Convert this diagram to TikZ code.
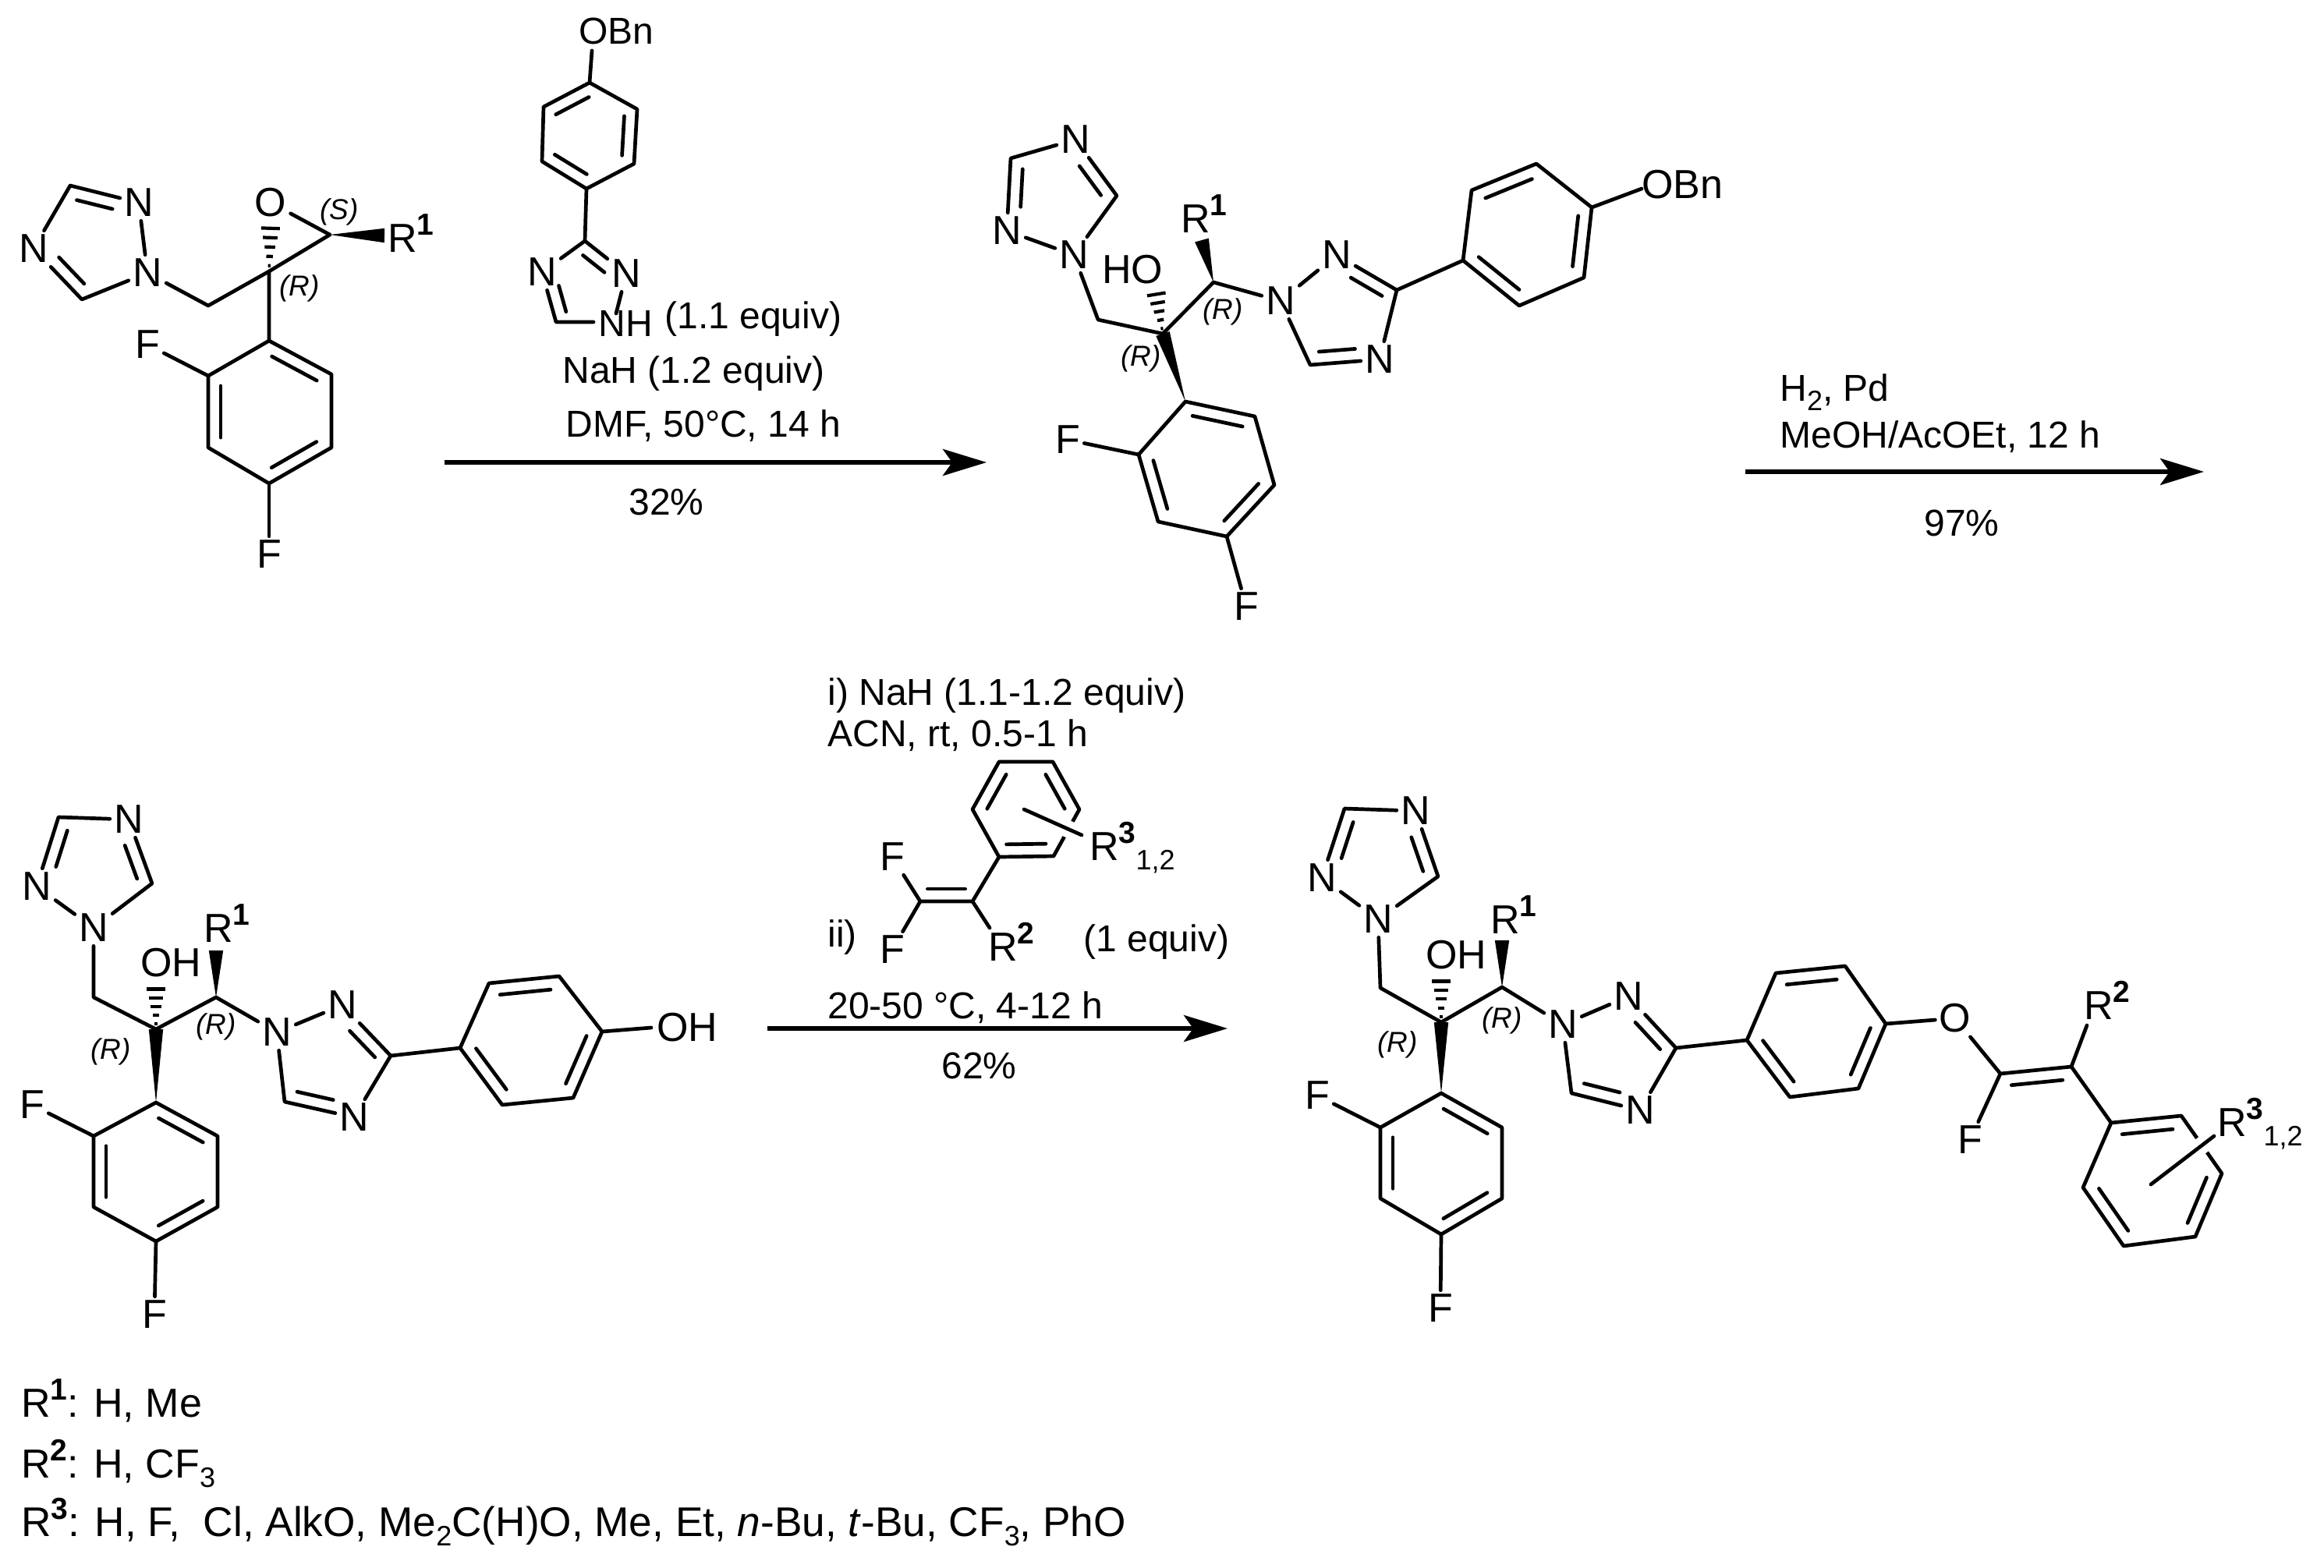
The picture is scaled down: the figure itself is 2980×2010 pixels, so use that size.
\documentclass[tikz,border=0pt]{standalone}
\usepackage{fontspec}
\setmainfont{Liberation Sans}
\usetikzlibrary{calc,arrows.meta}
\newcommand\Cn[3]{\coordinate (#1) at (#2,#3);}
\newcommand\At[4]{\node[atom] (#1) at (#2,#3) {#4};}
\newcommand\Lb[4]{\node[lab] (#1) at (#2,#3) {#4};}
\newcommand\Tx[4]{\node[txt] (#1) at (#2,#3) {#4};}
\newcommand\Sp[1]{\raisebox{11pt}{\fontsize{19.5}{19.5}\selectfont\bfseries #1}}
\newcommand\Sb[1]{\raisebox{-6pt}{\fontsize{18}{18}\selectfont #1}}
\newcommand\Rc[3]{\node[stereo] (#1) at (#2,#3) {\textit{(R)}};}
\newcommand\db[2]{\draw[bond] ($(#1)!.14!(#2)!8pt!90:(#2)$) -- ($(#2)!.14!(#1)!8pt!-90:(#1)$);}
\newcommand\dbna[2]{\draw[bond] ($(#1)!.34!(#2)!8pt!90:(#2)$) -- ($(#2)!.14!(#1)!8pt!-90:(#1)$);}
\newcommand\dbcn[2]{\draw[bond] ($(#1)!.14!(#2)!8pt!90:(#2)$) -- ($(#2)!.34!(#1)!8pt!-90:(#1)$);}
\newcommand\wdg[2]{\fill (#1) -- ($(#2)!4.6pt!90:(#1)$) -- ($(#2)!4.6pt!-90:(#1)$) -- cycle;}
\newcommand\hsh[2]{\foreach \hh in {.12,.32,.52,.72,.92}{\draw[line width=2.1pt] ($(#1)!\hh!(#2)!\hh*6.5pt!90:(#2)$) -- ($(#1)!\hh!(#2)!\hh*6.5pt!-90:(#2)$);}}
\tikzset{
 bond/.style={line width=2.35pt,line cap=round,line join=round},
 atom/.style={inner sep=2.5pt,font=\fontsize{26}{30}\selectfont},
 lab/.style={inner sep=0pt,anchor=base west,font=\fontsize{26}{30}\selectfont},
 txt/.style={inner sep=0pt,anchor=base west,font=\fontsize{24}{28}\selectfont},
 stereo/.style={inner sep=0pt,font=\fontsize{18.5}{22}\selectfont},
 rxn/.style={line width=2.8pt,-{Stealth[length=28pt,width=17pt,inset=6pt]}},
 halo/.style={white,line width=11pt}
}
\begin{document}
\begin{tikzpicture}[x=0.5pt,y=-0.5pt]
\path[use as bounding box] (0,0) rectangle (2980,2010);
% ---------- molecule 1
\Cn{at}{90}{238}\At{an2}{178}{260}{N}\At{an1}{189}{350}{N}\Cn{ac5}{105}{384}\At{an4}{43}{319}{N}
\Cn{ach}{267}{392}\Cn{aq}{345}{348}\At{ao}{347}{260}{O}\Cn{as}{423}{301}
\Cn{ar1}{345}{437}\Cn{ar2}{267}{482}\Cn{ar3}{267}{574}\Cn{ar4}{345}{620}\Cn{ar5}{425}{574}\Cn{ar6}{425}{480}
\At{af1}{189}{442}{F}\At{af2}{345}{711}{F}
\Cn{awe}{493}{302}\Cn{aha}{347}{288}
\Lb{arl}{497}{323}{R\Sp{1}}
\node[stereo] (asl) at (435,272) {\textit{(S)}};
\Rc{arc}{384}{370}
\draw[bond] (at)--(an2)--(an1)--(ac5)--(an4)--(at);
\draw[bond] (an1)--(ach)--(aq)--(as)--(ao);
\draw[bond] (aq)--(ar1)--(ar2)--(ar3)--(ar4)--(ar5)--(ar6)--(ar1);
\draw[bond] (ar2)--(af1);\draw[bond] (ar4)--(af2);
\dbna{an2}{at}\dbna{an4}{ac5}\db{ar2}{ar3}\db{ar4}{ar5}\db{ar6}{ar1}
\wdg{as}{awe}\hsh{aq}{aha}
% ---------- reagent 1
\Tx{bobn}{742}{56}{OBn}\Cn{bo}{759}{65}
\Cn{bp1}{756}{106}\Cn{bp2}{817}{140}\Cn{bp3}{813}{210}\Cn{bp4}{752}{242}\Cn{bp5}{695}{207}\Cn{bp6}{697}{137}
\Cn{bc3}{750}{309}\At{bn2}{803}{351}{N}\Tx{bnh}{767}{431}{NH}\Cn{bne}{761}{413}\Cn{bnu}{790}{402}
\Cn{bc5}{713}{413}\At{bn4}{695}{349}{N}
\draw[bond] (bo)--(bp1)--(bp2)--(bp3)--(bp4)--(bp5)--(bp6)--(bp1);
\draw[bond] (bp4)--(bc3)--(bn2);\draw[bond] (bn2)--(bnu);\draw[bond] (bne)--(bc5)--(bn4)--(bc3);
\db{bp1}{bp6}\db{bp5}{bp4}\db{bp3}{bp2}\dbna{bn2}{bc3}\dbna{bn4}{bc5}
\Tx{bt1}{852}{421}{(1.1 equiv)}
\Tx{bt2}{721}{491}{NaH (1.2 equiv)}
\Tx{bt3}{725}{560}{DMF, 50°C, 14 h}
\Tx{bt4}{806}{660}{32\%}
\Cn{aa1}{570}{593}\Cn{aa2}{1265}{593}
\draw[rxn] (aa1)--(aa2);
% ---------- molecule 2
\At{cn4}{1379}{179}{N}\Cn{cc5}{1432}{251}\At{cn1}{1377}{327}{N}\At{cn2}{1291}{296}{N}\Cn{cc3}{1296}{203}
\Cn{cch}{1408}{410}\Cn{cq}{1491}{428}\Cn{ccr}{1556}{362}
\At{cm1}{1642}{386}{N}\At{cm2}{1714}{327}{N}\Cn{cm3}{1791}{372}\At{cm4}{1769}{461}{N}\Cn{cm5}{1680}{468}
\Cn{cpa}{1876}{334}\Cn{cpb}{1887}{244}\Cn{cpc}{1970}{210}\Cn{cpd}{2041}{266}\Cn{cpe}{2031}{356}\Cn{cpf}{1948}{392}
\Cn{car1}{1520}{515}\Cn{car6}{1609}{534}\Cn{car5}{1634}{622}\Cn{car4}{1573}{688}\Cn{car3}{1485}{669}\Cn{car2}{1460}{583}
\At{cf1}{1369}{564}{F}\At{cf2}{1598}{778}{F}
\Cn{cwe}{1541}{308}\Cn{cha}{1482}{373}\Cn{cob}{2105}{242}
\Lb{cho}{1413}{363}{HO}\Lb{crl}{1514}{298}{R\Sp{1}}\Lb{cobn}{2105}{254}{OBn}
\Rc{crc1}{1568}{400}\Rc{crc2}{1463}{460}
\draw[bond] (cn4)--(cc5)--(cn1)--(cn2)--(cc3)--(cn4);
\draw[bond] (cn1)--(cch)--(cq)--(ccr)--(cm1)--(cm2)--(cm3)--(cm4)--(cm5)--(cm1);
\draw[bond] (cm3)--(cpa)--(cpb)--(cpc)--(cpd)--(cpe)--(cpf)--(cpa);
\draw[bond] (cpd)--(cob);
\draw[bond] (car1)--(car2)--(car3)--(car4)--(car5)--(car6)--(car1);
\draw[bond] (car2)--(cf1);\draw[bond] (car4)--(cf2);
\dbcn{cc5}{cn4}\dbcn{cc3}{cn2}\dbcn{cm5}{cm4}\dbcn{cm3}{cm2}
\db{cpa}{cpf}\db{cpe}{cpd}\db{cpc}{cpb}\db{car6}{car1}\db{car2}{car3}\db{car4}{car5}
\wdg{car1}{cq}\wdg{ccr}{cwe}\hsh{cq}{cha}
\Tx{ct1}{2282}{514}{H\Sb{2}, Pd}
\Tx{ct2}{2282}{574}{MeOH/AcOEt, 12 h}
\Tx{ct3}{2467}{687}{97\%}
\Cn{ca1}{2238}{605}\Cn{ca2}{2826}{605}
\draw[rxn] (ca1)--(ca2);
% ---------- molecule 3
\At{dn4}{165}{1051}{N}\Cn{dc3}{75}{1048}\At{dn2}{47}{1137}{N}\At{dn1}{120}{1190}{N}\Cn{dc5}{195}{1133}
\Cn{dch}{120}{1279}\Cn{dq}{200}{1320}\Cn{dcr}{277}{1279}
\At{dm1}{355}{1324}{N}\At{dm2}{439}{1289}{N}\Cn{dm3}{501}{1354}\At{dm4}{454}{1433}{N}\Cn{dm5}{365}{1413}
\Cn{dpa}{590}{1344}\Cn{dpb}{627}{1261}\Cn{dpc}{717}{1252}\Cn{dpd}{772}{1323}\Cn{dpe}{735}{1408}\Cn{dpf}{644}{1417}
\Cn{dar1}{200}{1414}\Cn{dar6}{279}{1457}\Cn{dar5}{279}{1548}\Cn{dar4}{200}{1592}\Cn{dar3}{120}{1548}\Cn{dar2}{120}{1457}
\At{df1}{41}{1417}{F}\At{df2}{198}{1686}{F}
\Cn{dwe}{277}{1219}\Cn{dha}{200}{1264}\Cn{doh}{835}{1318}
\Lb{dhl}{180}{1252}{OH}\Lb{drl}{261}{1208}{R\Sp{1}}\Lb{dohl}{842}{1335}{OH}
\Rc{drc1}{142}{1349}\Rc{drc2}{277}{1317}
\draw[bond] (dn4)--(dc5)--(dn1)--(dn2)--(dc3)--(dn4);
\draw[bond] (dn1)--(dch)--(dq)--(dcr)--(dm1)--(dm2)--(dm3)--(dm4)--(dm5)--(dm1);
\draw[bond] (dm3)--(dpa)--(dpb)--(dpc)--(dpd)--(dpe)--(dpf)--(dpa);
\draw[bond] (dpd)--(doh);
\draw[bond] (dar1)--(dar2)--(dar3)--(dar4)--(dar5)--(dar6)--(dar1);
\draw[bond] (dar2)--(df1);\draw[bond] (dar4)--(df2);
\dbcn{dc5}{dn4}\dbcn{dc3}{dn2}\dbcn{dm5}{dm4}\dbcn{dm3}{dm2}
\db{dpa}{dpf}\db{dpe}{dpd}\db{dpc}{dpb}\db{dar6}{dar1}\db{dar2}{dar3}\db{dar4}{dar5}
\wdg{dar1}{dq}\wdg{dcr}{dwe}\hsh{dq}{dha}
% ---------- reagent 2
\Tx{et1}{1061}{904}{i) NaH (1.1-1.2 equiv)}
\Tx{et2}{1061}{957}{ACN, rt, 0.5-1 h}
\Cn{ea}{1281}{1099}\Cn{eb}{1247}{1038}\Cn{ec}{1281}{977}\Cn{ed}{1350}{977}\Cn{ee}{1384}{1038}\Cn{ef}{1351}{1098}
\Cn{ev1}{1180}{1156}\Cn{ev2}{1247}{1156}
\At{ef1}{1144}{1099}{F}\At{ef2}{1144}{1218}{F}
\Cn{er2}{1269}{1190}\Cn{es1}{1313}{1038}\Cn{es2}{1387}{1071}
\Lb{erl}{1267}{1232}{R\Sp{2}}
\Lb{ers}{1397}{1103}{R\Sp{3}\Sb{1,2}}
\Tx{eii}{1061}{1214}{ii)}
\Tx{eeq}{1389}{1220}{(1 equiv)}
\Tx{et3}{1061}{1306}{20-50 °C, 4-12 h}
\Tx{et4}{1207}{1383}{62\%}
\draw[bond] (ea)--(eb)--(ec)--(ed)--(ee)--(ef)--(ea);
\db{ea}{ef}\db{ee}{ed}\db{ec}{eb}
\draw[bond] (ea)--(ev2)--(ev1)--(ef1);\draw[bond] (ev1)--(ef2);\draw[bond] (ev2)--(er2);
\db{ev1}{ev2}
\draw[halo] ($(es1)!.62!(es2)$)--($(es1)!.98!(es2)$);
\draw[bond] (es1)--(es2);
\Cn{ea1}{984}{1319}\Cn{ea2}{1574}{1319}
\draw[rxn] (ea1)--(ea2);
% ---------- molecule 4
\At{fn4}{1815}{1040}{N}\Cn{fc3}{1724}{1037}\At{fn2}{1695}{1126}{N}\At{fn1}{1767}{1179}{N}\Cn{fc5}{1844}{1124}
\Cn{fch}{1770}{1267}\Cn{fq}{1848}{1311}\Cn{fcr}{1926}{1266}
\At{fm1}{2004}{1314}{N}\At{fm2}{2088}{1278}{N}\Cn{fm3}{2149}{1344}\At{fm4}{2103}{1424}{N}\Cn{fm5}{2015}{1402}
\Cn{fpa}{2240}{1334}\Cn{fpb}{2277}{1248}\Cn{fpc}{2366}{1239}\Cn{fpd}{2418}{1313}\Cn{fpe}{2383}{1396}\Cn{fpf}{2295}{1407}
\At{fo}{2507}{1306}{O}\Cn{fv1}{2565}{1377}\Cn{fv2}{2656}{1368}\At{ff3}{2526}{1462}{F}
\Cn{fra}{2707}{1440}\Cn{frb}{2797}{1431}\Cn{frc}{2849}{1505}\Cn{frd}{2815}{1586}\Cn{fre}{2723}{1598}\Cn{frf}{2671}{1523}
\Cn{far1}{1848}{1402}\Cn{far6}{1926}{1446}\Cn{far5}{1926}{1537}\Cn{far4}{1848}{1583}\Cn{far3}{1770}{1537}\Cn{far2}{1770}{1446}
\At{ff1}{1689}{1405}{F}\At{ff2}{1847}{1678}{F}
\Cn{fwe}{1926}{1206}\Cn{fha}{1848}{1254}\Cn{fr2}{2676}{1315}\Cn{fs1}{2758}{1519}\Cn{fs2}{2839}{1457}
\Lb{fhl}{1828}{1242}{OH}\Lb{frl}{1911}{1197}{R\Sp{1}}\Lb{frl2}{2672}{1307}{R\Sp{2}}\Lb{frl3}{2843}{1457}{R\Sp{3}\Sb{1,2}}
\Rc{frc1}{1792}{1340}\Rc{frc2}{1926}{1309}
\draw[bond] (fn4)--(fc5)--(fn1)--(fn2)--(fc3)--(fn4);
\draw[bond] (fn1)--(fch)--(fq)--(fcr)--(fm1)--(fm2)--(fm3)--(fm4)--(fm5)--(fm1);
\draw[bond] (fm3)--(fpa)--(fpb)--(fpc)--(fpd)--(fpe)--(fpf)--(fpa);
\draw[bond] (fpd)--(fo)--(fv1)--(fv2)--(fr2);\draw[bond] (fv1)--(ff3);\draw[bond] (fv2)--(fra);
\draw[bond] (fra)--(frb)--(frc)--(frd)--(fre)--(frf)--(fra);
\draw[bond] (far1)--(far2)--(far3)--(far4)--(far5)--(far6)--(far1);
\draw[bond] (far2)--(ff1);\draw[bond] (far4)--(ff2);
\dbcn{fc5}{fn4}\dbcn{fc3}{fn2}\dbcn{fm5}{fm4}\dbcn{fm3}{fm2}
\db{fpa}{fpf}\db{fpe}{fpd}\db{fpc}{fpb}\db{far6}{far1}\db{far2}{far3}\db{far4}{far5}
\db{fv2}{fv1}\db{frb}{fra}\db{frd}{frc}\db{frf}{fre}
\draw[halo] ($(fs1)!.62!(fs2)$)--($(fs1)!.9!(fs2)$);
\draw[bond] (fs1)--(fs2);
\wdg{far1}{fq}\wdg{fcr}{fwe}\hsh{fq}{fha}
% ---------- legend
\Lb{g1}{27}{1817}{R\Sp{1}: H, Me}
\Lb{g2}{27}{1895}{R\Sp{2}: H, CF\Sb{3}}
\node[lab,font=\fontsize{26.6}{30}\selectfont] (g3) at (27,1970) {R\Sp{3}: H, F,\ \ Cl, AlkO, Me\Sb{2}C(H)O, Me, Et, \textit{n}-Bu, \textit{t}-Bu, CF\Sb{3}, PhO};
\end{tikzpicture}
\end{document}
